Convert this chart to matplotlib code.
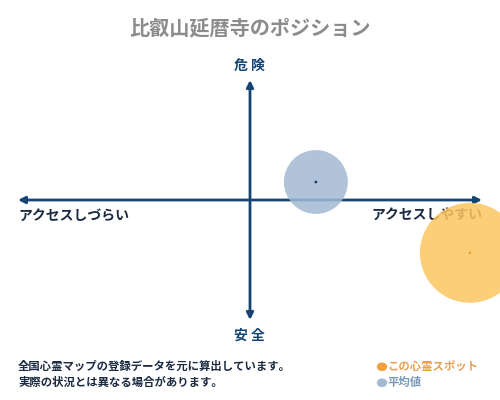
import matplotlib
matplotlib.use("Agg")
import matplotlib.pyplot as plt

plt.rcParams['font.family'] = ['Noto Sans CJK JP', 'DejaVu Sans']

# position scores: x = access (-1 hard .. 1 easy), y = danger (-1 safe .. 1 danger)
spotNames = ["この心霊スポット", "平均値"]
accessScore = [0.948, 0.284]
dangerScore = [-0.44, 0.15]
bubbleSize = [5184, 2116]
bubbleColor = ["#fdc661", "#a3b9d3"]
dotColor = ["#f0a030", "#1a3a60"]
legendTextColor = ["#e8a050", "#7a9ab8"]

navy = "#164574"

fig = plt.figure(figsize=(5, 4), dpi=100)
ax = fig.add_axes([0.036, 0.2, 0.928, 0.6])
ax.set_xlim(-1, 1)
ax.set_ylim(-1, 1)
ax.axis("off")

# axes arrows
ax.annotate("", xy=(-1, 0), xytext=(1, 0),
            arrowprops=dict(arrowstyle="<|-|>", color=navy, lw=2, mutation_scale=10,
                            shrinkA=0, shrinkB=0))
ax.annotate("", xy=(0, 1), xytext=(0, -1),
            arrowprops=dict(arrowstyle="<|-|>", color=navy, lw=2, mutation_scale=10,
                            shrinkA=0, shrinkB=0))

for i in range(len(spotNames)):
    ax.scatter(accessScore[i], dangerScore[i], s=bubbleSize[i], color=bubbleColor[i],
               alpha=0.85, edgecolors="none", clip_on=False, zorder=3)
    ax.scatter(accessScore[i], dangerScore[i], s=4, color=dotColor[i],
               edgecolors="none", clip_on=False, zorder=4)

fig.text(0.5, 0.93, "比叡山延暦寺のポジション", ha="center", va="center",
         fontsize=14.5, fontweight="bold", color="#8c8c8c")
fig.text(0.498, 0.835, "危 険", ha="center", va="center", fontsize=10,
         fontweight="bold", color=navy)
fig.text(0.498, 0.162, "安 全", ha="center", va="center", fontsize=10,
         fontweight="bold", color=navy)
fig.text(0.036, 0.46, "アクセスしづらい", ha="left", va="center", fontsize=10,
         fontweight="bold", color="#1a2a40", zorder=-1)
fig.text(0.964, 0.46, "アクセスしやすい", ha="right", va="center", fontsize=10,
         fontweight="bold", color="#1a2a40", zorder=-1)

fig.text(0.036, 0.083, "全国心霊マップの登録データを元に算出しています。", ha="left",
         va="center", fontsize=8.2, fontweight="bold", color="#1a2a40")
fig.text(0.036, 0.043, "実際の状況とは異なる場合があります。", ha="left",
         va="center", fontsize=8.2, fontweight="bold", color="#1a2a40")

legendY = [0.083, 0.043]
for i in range(len(spotNames)):
    fig.patches.append(matplotlib.patches.Circle((0.764, legendY[i]), 0.009,
                       transform=fig.transFigure, color=bubbleColor[i] if i else "#f0a040",
                       figure=fig))
    fig.text(0.775, legendY[i], spotNames[i], ha="left", va="center", fontsize=8.2,
             fontweight="bold", color=legendTextColor[i])

fig.savefig("out.png", dpi=100)
